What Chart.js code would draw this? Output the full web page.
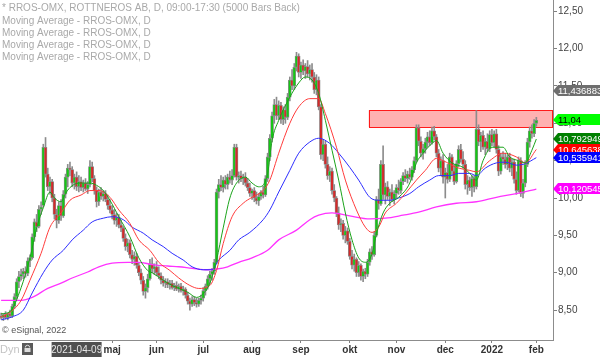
<!DOCTYPE html>
<html><head><meta charset="utf-8">
<script src="https://cdn.jsdelivr.net/npm/chart.js@4/dist/chart.umd.min.js"></script>
<style>html,body{margin:0;padding:0;background:#fff}#wrap{width:600px;height:357px;position:relative}</style>
</head><body><div id="wrap"><canvas id="c" width="600" height="357"></canvas></div>
<script>
// ---- DATA: daily candles [open, high, low, close], grouped by month ----
const candlesFeb21 = [[8.42,8.46,8.38,8.40],[8.40,8.45,8.36,8.44],[8.44,8.48,8.38,8.40],[8.40,8.46,8.37,8.45],[8.45,8.50,8.40,8.42],[8.42,8.58,8.40,8.55],[8.55,8.72,8.52,8.68]];
const candlesMar21 = [[8.68,8.92,8.65,8.88],[8.88,9.02,8.80,8.95],[8.95,9.05,8.90,8.98],[8.98,9.06,8.92,9.02],[9.02,9.08,8.94,8.99],[8.99,9.20,8.96,9.16],[9.16,9.24,9.08,9.20],[9.20,9.52,9.18,9.48],[9.48,9.72,9.42,9.68],[9.68,9.78,9.55,9.62],[9.62,9.90,9.60,9.85],[9.85,9.95,9.78,9.88],[9.90,10.72,9.88,10.68],[10.68,10.81,10.28,10.32],[10.32,10.40,10.10,10.15],[10.15,10.28,10.05,10.22],[10.22,10.25,9.95,10.00],[10.00,10.05,9.72,9.78],[9.78,9.85,9.60,9.70],[9.70,9.95,9.66,9.90],[9.90,9.98,9.70,9.76],[9.76,10.10,9.74,10.05],[10.05,10.32,10.00,10.28]];
const candlesApr21 = [[10.28,10.45,10.15,10.40],[10.40,10.48,10.30,10.38],[10.38,10.42,10.15,10.20],[10.20,10.32,10.12,10.28],[10.28,10.35,10.10,10.15],[10.15,10.30,10.08,10.22],[10.22,10.28,10.10,10.14],[10.14,10.24,10.08,10.20],[10.20,10.26,10.10,10.12],[10.12,10.22,10.06,10.18],[10.18,10.50,10.15,10.42],[10.42,10.48,10.22,10.26],[10.26,10.30,10.05,10.10],[10.10,10.15,9.88,9.95],[9.95,10.12,9.90,10.08],[10.08,10.14,9.98,10.02],[10.02,10.10,9.96,10.06],[10.06,10.10,9.95,9.98],[9.98,10.04,9.85,9.90],[9.90,9.98,9.80,9.84]];
const candlesMay21 = [[9.84,9.90,9.72,9.78],[9.78,9.85,9.65,9.70],[9.70,9.80,9.62,9.74],[9.74,9.78,9.60,9.64],[9.64,9.70,9.55,9.60],[9.60,9.62,9.42,9.46],[9.46,9.52,9.30,9.35],[9.35,9.45,9.28,9.40],[9.40,9.44,9.20,9.24],[9.24,9.30,9.12,9.18],[9.18,9.28,9.10,9.22],[9.22,9.26,9.06,9.10],[9.10,9.14,8.96,9.00],[9.00,9.05,8.85,8.90],[8.90,8.95,8.70,8.75],[8.75,8.85,8.66,8.80],[8.80,8.98,8.74,8.92],[8.92,9.18,8.90,9.12],[9.12,9.20,9.00,9.05],[9.05,9.12,8.98,9.08]];
const candlesJun21 = [[9.08,9.15,8.96,9.00],[9.00,9.08,8.92,8.96],[8.96,9.00,8.85,8.90],[8.90,8.95,8.82,8.86],[8.86,8.92,8.80,8.88],[8.88,8.92,8.80,8.84],[8.84,8.90,8.78,8.86],[8.86,8.90,8.78,8.80],[8.80,8.86,8.76,8.83],[8.83,8.88,8.76,8.78],[8.78,8.85,8.74,8.82],[8.82,8.86,8.74,8.76],[8.76,8.82,8.70,8.78],[8.78,8.80,8.66,8.70],[8.70,8.74,8.58,8.62],[8.62,8.66,8.50,8.58],[8.58,8.68,8.55,8.64],[8.64,8.68,8.56,8.60],[8.60,8.66,8.54,8.58],[8.58,8.66,8.55,8.63],[8.63,8.70,8.58,8.66]];
const candlesJul21 = [[8.66,8.80,8.62,8.76],[8.76,8.85,8.70,8.82],[8.82,8.96,8.78,8.92],[8.92,9.02,8.85,8.98],[8.98,9.06,8.90,9.02],[9.02,9.18,8.98,9.14],[9.14,10.12,9.12,10.08],[10.08,10.25,10.00,10.18],[10.18,10.30,10.10,10.14],[10.14,10.28,10.08,10.24],[10.24,10.30,10.12,10.18],[10.18,10.32,10.12,10.28],[10.28,10.36,10.20,10.24],[10.24,10.38,10.18,10.30],[10.30,10.72,10.28,10.68],[10.68,10.72,10.24,10.28],[10.28,10.35,10.20,10.30],[10.30,10.36,10.22,10.26],[10.26,10.32,10.18,10.28],[10.28,10.34,10.16,10.20],[10.20,10.26,10.10,10.14],[10.14,10.20,10.02,10.06]];
const candlesAug21 = [[10.06,10.12,9.98,10.10],[10.10,10.14,9.95,10.00],[10.00,10.08,9.92,9.96],[9.96,10.06,9.90,10.02],[10.02,10.10,9.98,10.08],[10.08,10.16,10.00,10.04],[10.04,10.30,10.02,10.26],[10.26,10.60,10.22,10.55],[10.55,10.85,10.50,10.80],[10.80,11.15,10.75,11.10],[11.10,11.32,11.00,11.25],[11.25,11.35,11.05,11.10],[11.10,11.30,11.05,11.24],[11.24,11.28,11.00,11.05],[11.05,11.22,10.98,11.18],[11.18,11.25,11.00,11.08],[11.08,11.40,11.05,11.35],[11.35,11.62,11.30,11.58],[11.58,11.72,11.45,11.50],[11.50,11.80,11.45,11.75],[11.75,11.95,11.70,11.90],[11.90,11.93,11.62,11.68]];
const candlesSep21 = [[11.68,11.82,11.60,11.78],[11.78,11.85,11.65,11.70],[11.70,11.80,11.60,11.76],[11.76,11.84,11.62,11.66],[11.66,11.78,11.58,11.72],[11.72,11.80,11.55,11.62],[11.62,11.68,11.40,11.45],[11.45,11.65,11.38,11.58],[11.58,11.62,11.18,11.22],[11.22,11.25,10.52,10.58],[10.58,10.78,10.50,10.72],[10.72,10.76,10.40,10.45],[10.45,10.55,10.25,10.30],[10.30,10.42,10.22,10.36],[10.36,10.40,10.05,10.10],[10.10,10.18,9.95,10.00],[10.00,10.02,9.75,9.80],[9.80,9.88,9.58,9.64],[9.64,9.72,9.55,9.66],[9.66,9.70,9.45,9.50],[9.50,9.62,9.40,9.56],[9.56,9.60,9.38,9.42]];
const candlesOct21 = [[9.42,9.46,9.18,9.22],[9.22,9.30,9.05,9.10],[9.10,9.25,9.02,9.18],[9.18,9.20,8.95,9.00],[9.00,9.15,8.95,9.10],[9.10,9.12,8.90,8.95],[8.95,9.05,8.88,9.02],[9.02,9.06,8.92,8.98],[8.98,9.18,8.95,9.14],[9.14,9.32,9.10,9.28],[9.28,9.35,9.18,9.24],[9.24,9.55,9.22,9.50],[9.50,10.02,9.48,9.98],[9.98,10.12,9.85,9.92],[9.92,10.50,9.90,10.45],[10.45,10.70,9.98,10.04],[10.04,10.20,9.92,10.15],[10.15,10.22,9.98,10.02],[10.02,10.12,9.90,10.08],[10.08,10.18,9.95,9.98],[9.98,10.10,9.92,10.06]];
const candlesNov21 = [[10.06,10.18,10.00,10.14],[10.14,10.24,10.05,10.10],[10.10,10.26,10.06,10.22],[10.22,10.34,10.18,10.30],[10.30,10.38,10.22,10.26],[10.26,10.36,10.20,10.32],[10.32,10.40,10.25,10.28],[10.28,10.42,10.24,10.38],[10.38,10.55,10.34,10.50],[10.50,10.98,10.48,10.94],[10.94,10.98,10.70,10.76],[10.76,10.82,10.55,10.60],[10.60,10.72,10.52,10.66],[10.66,10.80,10.60,10.75],[10.75,10.88,10.68,10.82],[10.82,10.90,10.70,10.74],[10.74,10.95,10.72,10.90],[10.90,10.96,10.78,10.82],[10.82,10.85,10.55,10.60],[10.60,10.65,10.35,10.40],[10.40,10.55,10.30,10.50],[10.50,10.58,10.20,10.28]];
const candlesDec21 = [[10.28,10.40,10.00,10.34],[10.34,10.45,10.20,10.25],[10.25,10.60,10.22,10.55],[10.55,10.58,10.30,10.36],[10.36,10.45,10.18,10.22],[10.22,10.50,10.20,10.46],[10.46,10.70,10.42,10.65],[10.65,10.72,10.48,10.52],[10.52,10.62,10.40,10.45],[10.45,10.50,10.12,10.18],[10.18,10.30,10.05,10.24],[10.24,10.28,10.10,10.14],[10.14,10.30,10.02,10.26],[10.26,10.30,10.08,10.15],[10.15,11.17,10.12,10.92],[10.92,10.98,10.70,10.75],[10.75,10.88,10.62,10.84],[10.84,10.90,10.65,10.68],[10.68,10.80,10.58,10.76],[10.76,10.86,10.62,10.66],[10.66,10.90,10.62,10.85]];
const candlesJan22 = [[10.85,10.92,10.70,10.74],[10.74,10.90,10.68,10.86],[10.86,10.92,10.60,10.65],[10.65,10.70,10.30,10.36],[10.36,10.60,10.32,10.55],[10.55,10.62,10.45,10.52],[10.52,10.60,10.40,10.45],[10.45,10.58,10.38,10.55],[10.55,10.60,10.35,10.40],[10.40,10.52,10.30,10.48],[10.48,10.52,10.20,10.25],[10.25,10.35,10.05,10.10],[10.10,10.55,10.08,10.50],[10.50,10.54,10.02,10.06],[10.06,10.25,10.00,10.20],[10.20,10.50,10.15,10.45],[10.45,10.80,10.42,10.75],[10.75,10.95,10.68,10.90],[10.90,10.98,10.80,10.86],[10.86,11.05,10.82,11.00]];
const candlesFeb22 = [[11.00,11.08,10.96,11.04]];

const monthGroups = [candlesFeb21,candlesMar21,candlesApr21,candlesMay21,candlesJun21,candlesJul21,candlesAug21,candlesSep21,candlesOct21,candlesNov21,candlesDec21,candlesJan22,candlesFeb22];
const monthTickLabels = ['','','','maj','jun','jul','aug','sep','okt','nov','dec','2022','feb'];
const yTickValues = [8.5,9,9.5,10,10.5,11,11.5,12,12.5];

// moving averages: [bar index, value]
const maGreen = [[0,8.45],[4,8.48],[9,8.80],[13,9.2],[16,9.6],[19,9.87],[22,10.08],[24,10.0],[27,9.95],[29,10.06],[31,10.14],[35,10.2],[40,10.2],[43,10.17],[46,10.1],[49,9.97],[53,9.75],[58,9.48],[62,9.2],[66,9.03],[68,9.0],[73,8.9],[77,8.83],[84,8.74],[88,8.67],[91,8.72],[94,8.86],[97,9.17],[100,9.6],[103,10.0],[106,10.2],[110,10.28],[113,10.2],[116,10.15],[120,10.33],[122,10.77],[125,11.04],[130,11.35],[134,11.54],[137,11.62],[140,11.58],[143,11.4],[146,11.04],[149,10.64],[152,10.24],[155,9.8],[158,9.44],[161,9.2],[164,9.14],[167,9.25],[169,9.52],[172,9.8],[175,9.93],[179,10.01],[184,10.2],[187,10.47],[190,10.6],[194,10.73],[196,10.77],[199,10.6],[203,10.47],[208,10.41],[211,10.33],[214,10.24],[217,10.5],[221,10.68],[226,10.68],[229,10.55],[233,10.5],[236,10.47],[239,10.64],[241,10.79]];
const maRed = [[0,8.41],[4,8.47],[9,8.63],[13,8.9],[18,9.26],[22,9.61],[27,9.8],[31,9.97],[36,10.04],[40,10.1],[44,10.1],[49,10.01],[53,9.84],[58,9.66],[62,9.44],[67,9.3],[71,9.14],[76,9.03],[80,8.93],[85,8.83],[89,8.79],[94,8.83],[97,9.03],[100,9.39],[104,9.75],[109,9.93],[113,10.01],[118,10.1],[121,10.24],[125,10.6],[130,11.0],[134,11.22],[139,11.33],[143,11.33],[146,11.13],[151,10.68],[155,10.24],[160,9.84],[164,9.61],[167,9.54],[170,9.61],[173,9.8],[178,9.93],[182,10.06],[187,10.24],[191,10.37],[196,10.53],[199,10.5],[205,10.41],[211,10.37],[214,10.35],[220,10.5],[226,10.6],[232,10.55],[236,10.47],[241,10.65]];
const maBlue = [[0,8.37],[5,8.41],[10,8.5],[14,8.73],[19,9.0],[23,9.17],[28,9.3],[32,9.44],[37,9.57],[41,9.68],[46,9.73],[50,9.75],[55,9.71],[59,9.61],[64,9.53],[68,9.44],[73,9.35],[77,9.26],[82,9.17],[86,9.08],[91,9.04],[95,9.04],[98,9.17],[103,9.3],[107,9.44],[112,9.54],[118,9.71],[121,9.84],[125,10.08],[130,10.37],[134,10.6],[139,10.75],[143,10.8],[148,10.73],[152,10.6],[157,10.41],[161,10.24],[166,10.01],[170,9.97],[175,9.97],[179,10.0],[184,10.06],[188,10.15],[193,10.24],[197,10.3],[202,10.3],[206,10.33],[211,10.33],[214,10.3],[218,10.4],[223,10.47],[227,10.48],[232,10.44],[236,10.46],[241,10.54]];
const maMagenta = [[0,8.63],[9,8.63],[14,8.67],[21,8.79],[27,8.86],[32,8.93],[39,9.01],[44,9.08],[50,9.13],[57,9.14],[62,9.14],[68,9.11],[75,9.09],[80,9.08],[86,9.06],[93,9.04],[97,9.05],[102,9.08],[107,9.14],[113,9.2],[120,9.3],[125,9.44],[133,9.57],[139,9.71],[143,9.77],[149,9.8],[157,9.76],[166,9.72],[173,9.73],[181,9.77],[188,9.81],[196,9.88],[205,9.93],[214,9.95],[223,10.01],[232,10.06],[241,10.12]];

const zoneHigh = 11.175, zoneLow = 10.95, zoneStartBar = 166;
const tagValues = [11.436883, 11.04, 10.792949, 10.645638, 10.535941, 10.120545];
const tagColors = ['#6e6e6e','#00ff00','#008000','#ff0000','#0000ff','#ff00ff'];
const tagTextColors = ['#ffffff','#000000','#ffffff','#ffffff','#ffffff','#ffffff'];
const titleText = '* RROS-OMX, ROTTNEROS AB, D, 09:00-17:30 (5000 Bars Back)';
const legendTexts = ['Moving Average - RROS-OMX, D','Moving Average - RROS-OMX, D','Moving Average - RROS-OMX, D','Moving Average - RROS-OMX, D'];
const cursorDate = '2021-04-09';
const cursorBar = candlesFeb21.length + candlesMar21.length + 4;
const rightPadBars = 7;

// ---- build ----
const candles = monthGroups.flat();
const labels = [];
monthGroups.forEach((g, m) => g.forEach((_, k) => labels.push(k === 0 ? monthTickLabels[m] : '')));
for (let k = 0; k < rightPadBars; k++) labels.push('');
function toSeries(pairs){ const a = new Array(labels.length).fill(null); pairs.forEach(([i,v]) => { a[i] = v; }); return a; }

const FONT = '"Liberation Sans", Arial, sans-serif';
Chart.defaults.font.family = FONT;

const overlay = {
  id: 'overlay',
  beforeDatasetsDraw(chart) {
    const {ctx, chartArea: ca, scales: {x, y}} = chart;
    const w = x.getPixelForValue(1) - x.getPixelForValue(0);
    const left = x.getPixelForValue(zoneStartBar) - w / 2;
    const top = y.getPixelForValue(zoneHigh), bot = y.getPixelForValue(zoneLow);
    ctx.save();
    ctx.fillStyle = 'rgba(255,100,100,0.5)';
    ctx.fillRect(left, top, ca.right - left, bot - top);
    ctx.strokeStyle = '#ff1a1a'; ctx.lineWidth = 1;
    ctx.strokeRect(Math.round(left) + 0.5, Math.round(top) + 0.5, Math.round(ca.right - left) - 1, Math.round(bot - top));
    ctx.restore();
  },
  afterDraw(chart) {
    const {ctx, chartArea: ca, scales: {x, y}} = chart;
    ctx.save();
    ctx.textBaseline = 'middle';
    ctx.font = '10px ' + FONT;
    ctx.fillStyle = '#a9a9a9';
    ctx.fillText(titleText, 2, 8);
    legendTexts.forEach((t, k) => ctx.fillText(t, 2, 21 + 12 * k));
    ctx.font = '9px ' + FONT;
    ctx.fillStyle = '#555';
    ctx.fillText('\u00a9 eSignal, 2022', 2, 331);
    // bottom-left controls
    ctx.font = '11px ' + FONT;
    ctx.fillStyle = '#c4c4c4';
    ctx.fillText('Dyn', 0, 350);
    ctx.fillStyle = '#5a5a5a';
    ctx.fillRect(22, 343, 11, 12);
    ctx.strokeStyle = '#dcdcdc'; ctx.lineWidth = 1;
    ctx.beginPath(); ctx.arc(27.5, 347.5, 2.2, Math.PI, 0); ctx.stroke();
    ctx.fillStyle = '#dcdcdc'; ctx.fillRect(24.5, 348, 6, 4);
    // cursor date label
    const cx = x.getPixelForValue(cursorBar);
    ctx.fillStyle = '#4f4f4f';
    ctx.fillRect(cx - 25, 342, 50, 15);
    ctx.fillStyle = '#e6e6e6';
    ctx.font = '10px ' + FONT;
    ctx.textAlign = 'center';
    ctx.fillText(cursorDate, cx, 350);
    // price tags on the right axis
    ctx.textAlign = 'left';
    tagValues.forEach((v, k) => {
      const py = Math.round(y.getPixelForValue(v));
      const tip = ca.right;
      ctx.fillStyle = tagColors[k];
      ctx.beginPath();
      ctx.moveTo(tip, py);
      ctx.lineTo(tip + 5, py - 6);
      ctx.lineTo(600, py - 6);
      ctx.lineTo(600, py + 5);
      ctx.lineTo(tip + 5, py + 5);
      ctx.closePath();
      ctx.fill();
      ctx.fillStyle = tagTextColors[k];
      ctx.font = '9.5px ' + FONT;
      ctx.fillText(String(v).replace('.', ','), tip + 5, py);
    });
    ctx.restore();
  }
};

const green = '#14c814', red = '#d42a2a', wick = '#8c8c8c';
new Chart(document.getElementById('c'), {
  type: 'bar',
  data: {
    labels,
    datasets: [
      { type: 'line', data: toSeries(maGreen), borderColor: '#1aa31a', borderWidth: 1, pointRadius: 0, spanGaps: true, cubicInterpolationMode: 'monotone', order: 0 },
      { type: 'line', data: toSeries(maRed), borderColor: '#ff3b3b', borderWidth: 1, pointRadius: 0, spanGaps: true, cubicInterpolationMode: 'monotone', order: 0 },
      { type: 'line', data: toSeries(maBlue), borderColor: '#2d2dff', borderWidth: 1, pointRadius: 0, spanGaps: true, cubicInterpolationMode: 'monotone', order: 0 },
      { type: 'line', data: toSeries(maMagenta), borderColor: '#ff33ff', borderWidth: 1.3, pointRadius: 0, spanGaps: true, cubicInterpolationMode: 'monotone', order: 0 },
      { type: 'bar', data: candles.map(c => [c[0], c[3]]), grouped: false, barThickness: 3, minBarLength: 1,
        backgroundColor: ctx => { const c = candles[ctx.dataIndex]; return c && c[3] >= c[0] ? green : red; },
        borderColor: wick, borderWidth: 0.8, borderSkipped: false, order: 1 },
      { type: 'bar', data: candles.map(c => [c[2], c[1]]), grouped: false, barThickness: 1, backgroundColor: wick, borderWidth: 0, order: 2 }
    ]
  },
  options: {
    responsive: false, animation: false, events: [],
    layout: { padding: 0 },
    plugins: { legend: { display: false }, tooltip: { enabled: false } },
    scales: {
      x: {
        type: 'category', offset: true,
        afterFit: s => { s.height = 17; s.paddingLeft = 0; s.paddingRight = 0; },
        ticks: { autoSkip: false, maxRotation: 0, minRotation: 0, padding: 1,
          callback: (v) => labels[v], color: '#333', font: { size: 10, weight: 'bold' } },
        grid: { display: true, drawOnChartArea: false, drawTicks: true, tickLength: 3, offset: false,
          color: ctx => (ctx.tick && labels[ctx.tick.value]) ? '#808080' : 'rgba(0,0,0,0)' },
        border: { display: true, color: '#8c8c8c', width: 1 }
      },
      y: {
        position: 'right', min: 8.1, max: 12.65,
        afterBuildTicks: s => { s.ticks = yTickValues.map(v => ({ value: v })); },
        afterFit: s => { s.width = 47; s.paddingTop = 0; s.paddingBottom = 0; },
        ticks: { callback: v => Number(v).toFixed(2).replace('.', ','), color: '#444', padding: 1, font: { size: 10 } },
        grid: { drawOnChartArea: false, drawTicks: true, tickLength: 4, color: '#808080' },
        border: { display: true, color: '#8c8c8c', width: 1 }
      }
    }
  },
  plugins: [overlay]
});
</script></body></html>
